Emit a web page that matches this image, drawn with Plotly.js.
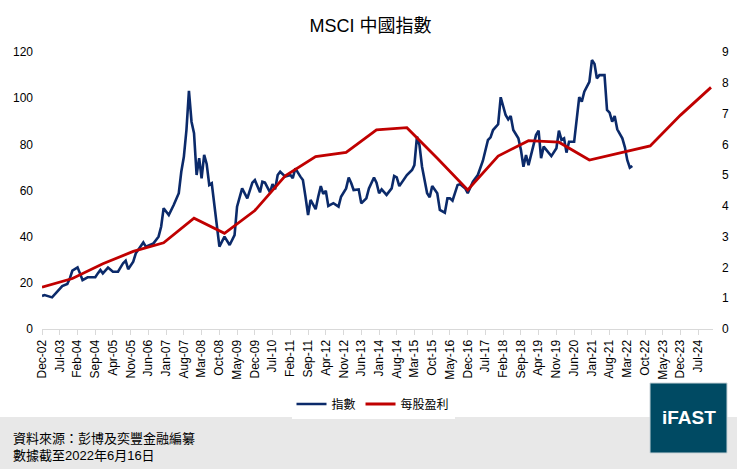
<!DOCTYPE html>
<html>
<head>
<meta charset="utf-8">
<script src="https://cdn.plot.ly/plotly-3.0.1.min.js"></script>
<style>
  html, body { margin: 0; padding: 0; background: #fff; }
  #chart { width: 741px; height: 469px; }
</style>
</head>
<body>
<div id="chart"></div>
<script>
// MSCI China index (left axis)
const indexDates = [
  '2002-12', '2003-01', '2003-04', '2003-06', '2003-08', '2003-10', '2003-11', '2003-12',
  '2004-02', '2004-03', '2004-04', '2004-06', '2004-09', '2004-10', '2004-11', '2004-12',
  '2005-02', '2005-04', '2005-06', '2005-08', '2005-09', '2005-10', '2005-12',
  '2006-01', '2006-03', '2006-04', '2006-05', '2006-08', '2006-10', '2006-11', '2006-12',
  '2007-02', '2007-04', '2007-06', '2007-07', '2007-08', '2007-09', '2007-10', '2007-11', '2007-12',
  '2008-01', '2008-02', '2008-03', '2008-04', '2008-05', '2008-06', '2008-07', '2008-10', '2008-12',
  '2009-02', '2009-04', '2009-05', '2009-07', '2009-09', '2009-11', '2009-12',
  '2010-02', '2010-03', '2010-04', '2010-06', '2010-07', '2010-08', '2010-09', '2010-10', '2010-12',
  '2011-02', '2011-03', '2011-04', '2011-06', '2011-07', '2011-08', '2011-09', '2011-10', '2011-12',
  '2012-01', '2012-02', '2012-03', '2012-04', '2012-05', '2012-07', '2012-09', '2012-10', '2012-12',
  '2013-01', '2013-02', '2013-03', '2013-05', '2013-06', '2013-08', '2013-09', '2013-11', '2013-12',
  '2014-01', '2014-02', '2014-04', '2014-06', '2014-07', '2014-08', '2014-09', '2014-11', '2014-12',
  '2015-02', '2015-03', '2015-04', '2015-05', '2015-06', '2015-08', '2015-09', '2015-10', '2015-12',
  '2016-01', '2016-03', '2016-04', '2016-05', '2016-06', '2016-08', '2016-09', '2016-11', '2016-12',
  '2017-02', '2017-04', '2017-06', '2017-08', '2017-09', '2017-10', '2017-12',
  '2018-01', '2018-03', '2018-04', '2018-05', '2018-06', '2018-08', '2018-09', '2018-10', '2018-11', '2018-12',
  '2019-02', '2019-03', '2019-04', '2019-05', '2019-06', '2019-09', '2019-11', '2019-12',
  '2020-01', '2020-02', '2020-03', '2020-04', '2020-06', '2020-07', '2020-08', '2020-09', '2020-10', '2020-12',
  '2021-01', '2021-02', '2021-03', '2021-04', '2021-06', '2021-07', '2021-08', '2021-09', '2021-10', '2021-11',
  '2022-01', '2022-02', '2022-03', '2022-04', '2022-05'
]
const indexValues = [
  14.3, 14.7, 13.7, 16.2, 18.6, 19.5, 22.0, 25.3,
  26.7, 24.1, 21.2, 22.4, 22.4, 24.1, 25.6, 24.1,
  26.6, 24.8, 24.8, 28.5, 29.6, 25.9, 29.2,
  32.8, 35.7, 37.5, 35.7, 37.1, 40.0, 44.3, 52.3,
  49.4, 53.7, 58.8, 68.1, 74.6, 86.2, 103.2, 89.8, 84.8,
  66.7, 74.0, 65.3, 75.4, 71.5, 62.4, 63.1, 35.7, 40.0,
  36.4, 40.7, 53.0, 60.9, 56.6, 63.4, 64.5,
  59.2, 63.8, 63.4, 59.2, 62.8, 60.5, 66.7, 68.1, 66.0,
  66.7, 65.3, 69.6, 66.0, 64.5, 57.3, 49.4, 55.9, 51.9,
  57.3, 61.9, 58.5, 59.9, 53.3, 54.5, 53.0, 57.3, 60.9,
  65.6, 63.1, 60.2, 60.5, 54.5, 56.6, 60.9, 65.6, 63.4,
  58.8, 60.5, 58.1, 60.9, 66.3, 65.7, 61.9, 65.3, 66.7,
  68.9, 71.0, 83.3, 79.7, 70.3, 58.8, 57.1, 61.9, 58.8,
  51.6, 50.4, 56.6, 56.6, 55.6, 62.4, 62.7, 60.9, 58.8,
  63.8, 66.7, 72.9, 81.9, 83.0, 86.2, 88.7,
  100.4, 92.7, 90.8, 92.3, 86.2, 82.6, 77.5, 70.3, 75.4, 71.0,
  80.1, 84.0, 85.9, 74.0, 79.0, 74.9, 78.3, 85.9,
  81.9, 82.6, 76.4, 81.1, 81.1, 90.5, 100.4, 98.5, 102.8, 107.1,
  116.5, 114.8, 108.6, 110.0, 110.0, 94.9, 93.7, 89.8, 92.3, 86.5,
  82.6, 78.7, 73.2, 69.9, 70.6
]

// Earnings per share (right axis), year-end values incl. forecasts
const epsDates = [
  '2002-12', '2003-12', '2004-12', '2005-12', '2006-12', '2007-12', '2008-12', '2009-12',
  '2010-12', '2011-12', '2012-12', '2013-12', '2014-12', '2015-12', '2016-12', '2017-12',
  '2018-12', '2019-12', '2020-12', '2021-12', '2022-12', '2023-12', '2024-12'
]
const epsValues = [
  1.36, 1.64, 2.12, 2.52, 2.80, 3.60, 3.11, 3.85,
  4.98, 5.60, 5.74, 6.47, 6.54, 5.55, 4.52, 5.62,
  6.12, 6.07, 5.49, 5.72, 5.95, 6.95, 7.85
]

const tickLabels = [
  'Dec-02', 'Jul-03', 'Feb-04', 'Sep-04', 'Apr-05', 'Nov-05', 'Jun-06', 'Jan-07',
  'Aug-07', 'Mar-08', 'Oct-08', 'May-09', 'Dec-09', 'Jul-10', 'Feb-11', 'Sep-11',
  'Apr-12', 'Nov-12', 'Jun-13', 'Jan-14', 'Aug-14', 'Mar-15', 'Oct-15', 'May-16',
  'Dec-16', 'Jul-17', 'Feb-18', 'Sep-18', 'Apr-19', 'Nov-19', 'Jun-20', 'Jan-21',
  'Aug-21', 'Mar-22', 'Oct-22', 'May-23', 'Dec-23', 'Jul-24'
]

const seriesNames = ['指數', '每股盈利']
const colors = ['#0b2a6a', '#c00000']

const months = ['Jan', 'Feb', 'Mar', 'Apr', 'May', 'Jun', 'Jul', 'Aug', 'Sep', 'Oct', 'Nov', 'Dec']
function labelToDate (label) {
  const [mon, yy] = label.split('-')
  const m = months.indexOf(mon) + 1
  return '20' + yy + '-' + (m < 10 ? '0' : '') + m + '-01'
}

const FONT = 'Liberation Sans, Arial, Noto Sans CJK TC, sans-serif'

// plot area in pixels, used to place footer items in paper coords
const plotL = 42
const plotR = 713
const plotT = 52
const plotB = 329
function px (x) { return (x - plotL) / (plotR - plotL) }
function py (y) { return (plotB - y) / (plotB - plotT) }

var data = [{
  x: indexDates,
  y: indexValues,
  name: seriesNames[0],
  type: 'scatter',
  mode: 'lines',
  line: { color: colors[0], width: 2.6 },
  yaxis: 'y'
}, {
  x: epsDates,
  y: epsValues,
  name: seriesNames[1],
  type: 'scatter',
  mode: 'lines',
  line: { color: colors[1], width: 2.8 },
  yaxis: 'y2'
}]

var layout = {
  width: 741,
  height: 469,
  margin: { l: plotL, r: 741 - plotR, t: plotT, b: 469 - plotB },
  paper_bgcolor: '#ffffff',
  plot_bgcolor: '#ffffff',
  font: { family: FONT, size: 12, color: '#000000' },
  title: {
    text: 'MSCI 中國指數',
    font: { family: FONT, size: 18, color: '#000000' },
    x: 0.5,
    xanchor: 'center',
    y: 1 - 26 / 469,
    yanchor: 'middle'
  },
  showlegend: true,
  legend: {
    orientation: 'h',
    x: px(373),
    xanchor: 'center',
    y: py(404),
    yanchor: 'middle',
    font: { family: FONT, size: 12, color: '#000000' },
    itemwidth: 30,
    tracegroupgap: 0
  },
  xaxis: {
    type: 'date',
    range: ['2002-12-01', '2024-12-25'],
    tickvals: tickLabels.map(labelToDate),
    ticktext: tickLabels,
    tickangle: -90,
    ticks: 'outside',
    ticklen: 5,
    tickcolor: '#d9d9d9',
    showline: true,
    linecolor: '#d9d9d9',
    linewidth: 1,
    showgrid: false,
    zeroline: false,
    tickfont: { family: FONT, size: 12, color: '#000000' }
  },
  yaxis: {
    range: [0, 120],
    dtick: 20,
    showgrid: false,
    zeroline: false,
    showline: false,
    ticks: '',
    ticklabelstandoff: 8,
    tickfont: { family: FONT, size: 12, color: '#000000' }
  },
  yaxis2: {
    range: [0, 9],
    dtick: 1,
    overlaying: 'y',
    side: 'right',
    showgrid: false,
    zeroline: false,
    showline: false,
    ticks: '',
    ticklabelstandoff: 8,
    tickfont: { family: FONT, size: 12, color: '#000000' }
  },
  shapes: [
    {
      type: 'rect', xref: 'paper', yref: 'paper', layer: 'below',
      x0: px(0), x1: px(737), y0: py(469), y1: py(417),
      fillcolor: '#e8e8e8', line: { width: 0 }
    },
    {
      type: 'rect', xref: 'paper', yref: 'paper',
      x0: px(650), x1: px(727), y0: py(453), y1: py(383),
      fillcolor: '#004a63', line: { color: '#c8d3d8', width: 1 }
    }
  ],
  annotations: [
    {
      xref: 'paper', yref: 'paper', x: px(688.5), y: py(417),
      text: '<b>iFAST</b>', showarrow: false,
      font: { family: FONT, size: 19, color: '#ffffff' },
      xanchor: 'center', yanchor: 'middle'
    },
    {
      xref: 'paper', yref: 'paper', x: px(11), y: py(438),
      text: '資料來源：彭博及奕豐金融編纂', showarrow: false,
      font: { family: FONT, size: 13, color: '#000000' },
      xanchor: 'left', yanchor: 'middle'
    },
    {
      xref: 'paper', yref: 'paper', x: px(11), y: py(455),
      text: '數據截至2022年6月16日', showarrow: false,
      font: { family: FONT, size: 13, color: '#000000' },
      xanchor: 'left', yanchor: 'middle'
    }
  ],
  hovermode: false
}

Plotly.newPlot('chart', data, layout, { displayModeBar: false, staticPlot: true })
</script>
</body>
</html>
